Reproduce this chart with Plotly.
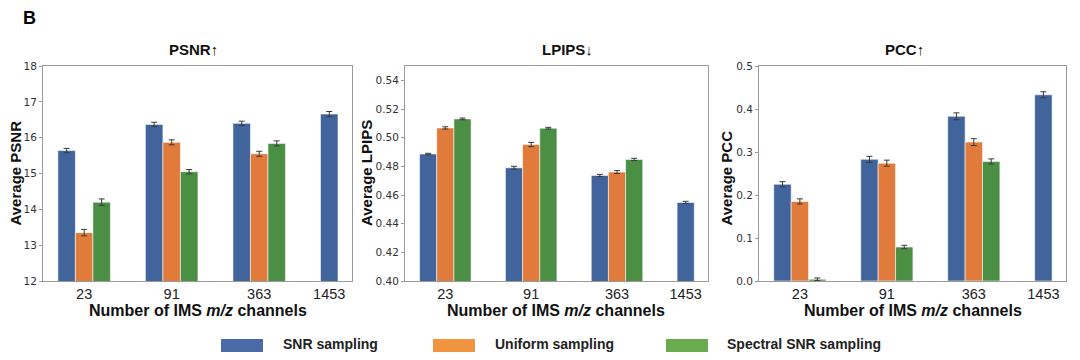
import plotly.graph_objects as go

channels = ["23", "91", "363", "1453"]
series_names = ["SNR sampling", "Uniform sampling", "Spectral SNR sampling"]

psnr_snr = [15.64, 16.37, 16.40, 16.66]
psnr_snr_err = [0.06, 0.06, 0.06, 0.07]
psnr_uni = [13.35, 15.87, 15.55, None]
psnr_uni_err = [0.09, 0.07, 0.07, None]
psnr_spec = [14.20, 15.05, 15.84, None]
psnr_spec_err = [0.09, 0.06, 0.07, None]

lpips_snr = [0.4886, 0.4790, 0.4736, 0.4548]
lpips_snr_err = [0.0005, 0.0010, 0.0008, 0.0008]
lpips_uni = [0.5068, 0.4952, 0.4760, None]
lpips_uni_err = [0.0008, 0.0015, 0.0010, None]
lpips_spec = [0.5131, 0.5066, 0.4848, None]
lpips_spec_err = [0.0006, 0.0006, 0.0008, None]

pcc_snr = [0.225, 0.283, 0.383, 0.433]
pcc_snr_err = [0.006, 0.007, 0.008, 0.007]
pcc_uni = [0.185, 0.274, 0.323, None]
pcc_uni_err = [0.006, 0.007, 0.008, None]
pcc_spec = [0.004, 0.079, 0.278, None]
pcc_spec_err = [0.003, 0.004, 0.006, None]

panel_titles = ["PSNR↑", "LPIPS↓", "PCC↑"]
y_titles = ["Average PSNR", "Average LPIPS", "Average PCC"]
y_ranges = [[12, 18], [0.40, 0.55], [0.0, 0.5]]
y_ticks = [[12, 13, 14, 15, 16, 17, 18],
           [0.40, 0.42, 0.44, 0.46, 0.48, 0.50, 0.52, 0.54],
           [0.0, 0.1, 0.2, 0.3, 0.4, 0.5]]
y_ticktext = [["12", "13", "14", "15", "16", "17", "18"],
              ["0.40", "0.42", "0.44", "0.46", "0.48", "0.50", "0.52", "0.54"],
              ["0.0", "0.1", "0.2", "0.3", "0.4", "0.5"]]

bar_colors = ["#41649c", "#e07b3b", "#4b8f45"]
legend_colors = ["#4a6aa8", "#f0943f", "#6aab4f"]

panels = [
    [(psnr_snr, psnr_snr_err), (psnr_uni, psnr_uni_err), (psnr_spec, psnr_spec_err)],
    [(lpips_snr, lpips_snr_err), (lpips_uni, lpips_uni_err), (lpips_spec, lpips_spec_err)],
    [(pcc_snr, pcc_snr_err), (pcc_uni, pcc_uni_err), (pcc_spec, pcc_spec_err)],
]

W, H = 1080, 360
x_domains = [[43 / W, 352 / W], [405 / W, 708 / W], [759 / W, 1066 / W]]
y_domain = [1 - 281 / H, 1 - 66 / H]
title_x = [193, 567, 905]
ytitle_x = [15, 366, 726]

BARGAP = 0.4
bar_w = (1 - BARGAP) / 3
xpos = list(range(len(channels)))
tickvals = [0, 1, 2, 3 - bar_w]

fig = go.Figure()
TICK_FONT = "DejaVu Sans"
SANS = "Liberation Sans, Arial, sans-serif"

for p, traces in enumerate(panels):
    ax = "" if p == 0 else str(p + 1)
    for s, (vals, errs) in enumerate(traces):
        fig.add_trace(go.Bar(
            x=xpos, y=vals, name=series_names[s],
            marker=dict(color=bar_colors[s], line=dict(color="rgba(255,255,255,0.7)", width=0.8)),
            error_y=dict(type="data", array=errs, visible=True, color="#3a3a3a", thickness=1, width=3),
            xaxis="x" + ax, yaxis="y" + ax, showlegend=False, hoverinfo="skip",
            offsetgroup=str(s),
        ))
    fig.layout["xaxis" + ax] = dict(
        domain=x_domains[p], anchor="y" + ax, range=[-0.47, 3.06],
        tickmode="array", tickvals=tickvals, ticktext=channels,
        tickfont=dict(family=SANS, size=14.5, color="#222"),
        showline=True, linecolor="#9a9a9a", linewidth=1, mirror=True,
        ticks="", ticklabelstandoff=0,
        showgrid=False, zeroline=False, automargin=False, fixedrange=True,
    )
    fig.layout["yaxis" + ax] = dict(
        domain=y_domain, anchor="x" + ax, range=y_ranges[p],
        tickmode="array", tickvals=y_ticks[p], ticktext=y_ticktext[p],
        tickfont=dict(family=TICK_FONT, size=10.5, color="#333"),
        showline=True, linecolor="#9a9a9a", linewidth=1, mirror=True,
        ticks="outside", ticklen=3, tickcolor="#9a9a9a",
        showgrid=False, zeroline=False, automargin=False, fixedrange=True,
    )

annotations = []
for p in range(3):
    annotations.append(dict(text="<b>" + panel_titles[p] + "</b>", x=title_x[p] / W, y=1 - 50 / H,
                            xref="paper", yref="paper", showarrow=False,
                            xanchor="center", yanchor="middle",
                            font=dict(family=SANS, size=15, color="#111")))
    annotations.append(dict(text="<b>" + y_titles[p] + "</b>", x=ytitle_x[p] / W, y=1 - 228 / H,
                            xref="paper", yref="paper", showarrow=False, textangle=-90,
                            xanchor="center", yanchor="bottom",
                            font=dict(family=SANS, size=15, color="#111")))
    cx = (x_domains[p][0] + x_domains[p][1]) / 2
    annotations.append(dict(text="<b>Number of IMS <i>m/z</i> channels</b>", x=cx, y=1 - 310 / H,
                            xref="paper", yref="paper", showarrow=False,
                            xanchor="center", yanchor="middle",
                            font=dict(family=SANS, size=16, color="#111")))

annotations.append(dict(text="<b>B</b>", x=29 / W, y=1 - 18 / H, xref="paper", yref="paper",
                        showarrow=False, xanchor="center", yanchor="middle",
                        font=dict(family=SANS, size=18, color="#000")))

shapes = []
legend_x = [(221, 263, 281), (433, 475, 493), (666, 708, 725)]
for s, (x0, x1, tx) in enumerate(legend_x):
    shapes.append(dict(type="rect", xref="paper", yref="paper",
                       x0=x0 / W, x1=x1 / W, y0=1 - 352 / H, y1=1 - 339 / H,
                       fillcolor=legend_colors[s], line=dict(width=0)))
    annotations.append(dict(text="<b>" + series_names[s] + "</b>", x=tx / W, y=1 - 344 / H,
                            xref="paper", yref="paper", showarrow=False,
                            xanchor="left", yanchor="middle",
                            font=dict(family=SANS, size=14, color="#222")))

fig.update_layout(
    width=W, height=H, margin=dict(l=0, r=0, t=0, b=0, pad=0, autoexpand=False),
    paper_bgcolor="white", plot_bgcolor="white", showlegend=False,
    barmode="group", bargap=BARGAP, bargroupgap=0,
    annotations=annotations, shapes=shapes,
)

fig.write_html("out.html", config={"displayModeBar": False, "staticPlot": True},
               post_script="document.body.style.margin='0';document.body.style.padding='0';")
